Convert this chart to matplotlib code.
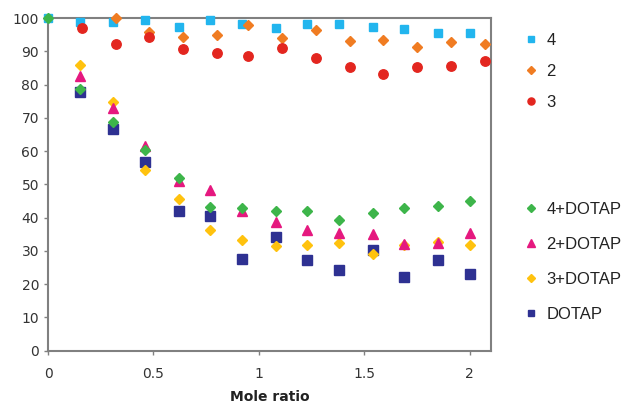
import matplotlib
matplotlib.use("Agg")
import matplotlib.pyplot as plt

# --- data ---
x_a = [0, 0.15, 0.31, 0.46, 0.62, 0.77, 0.92, 1.08, 1.23, 1.38, 1.54, 1.69, 1.85, 2.0]
x_b = [0.16, 0.32, 0.48, 0.64, 0.80, 0.95, 1.11, 1.27, 1.43, 1.59, 1.75, 1.91, 2.07]

y_4 = [100, 98.9, 98.8, 99.3, 97.3, 99.5, 98.3, 97.1, 98.1, 98.1, 97.3, 96.8, 95.5, 95.4]
x_2 = x_b[1:]
y_2 = [100, 95.7, 94.3, 94.9, 97.8, 94.1, 96.5, 93.0, 93.5, 91.3, 92.9, 92.2]
y_3 = [97.0, 92.1, 94.4, 90.7, 89.5, 88.7, 91.0, 88.1, 85.3, 83.3, 85.3, 85.7, 87.1]

# point at x=0 (100 %) is only visible for 4+DOTAP, the others sit underneath
y_4d = [100, 78.7, 68.6, 60.4, 52.0, 43.1, 42.8, 42.0, 42.0, 39.4, 41.5, 42.8, 43.6, 44.9]
x_d = x_a[1:]
y_2d = [82.6, 72.9, 61.6, 51.0, 48.3, 42.0, 38.8, 36.3, 35.3, 35.0, 32.1, 32.3, 35.5]
y_3d = [85.9, 74.9, 54.4, 45.6, 36.3, 33.3, 31.5, 31.7, 32.3, 29.2, 31.7, 32.8, 31.8]
y_dotap = [77.7, 66.6, 56.7, 42.0, 40.6, 27.5, 34.1, 27.3, 24.3, 30.3, 22.3, 27.2, 23.0]

x_ticks = [0, 0.5, 1, 1.5, 2]
x_tick_labels = ["0", "0.5", "1", "1.5", "2"]
y_ticks = list(range(0, 101, 10))

# --- figure ---
fig = plt.figure(figsize=(6.27, 4.03), dpi=100)
ax = fig.add_axes([0.0766, 0.1298, 0.7064, 0.8255])

mk = dict(ls="none", clip_on=False, zorder=3)
h4, = ax.plot(x_a, y_4, marker="s", ms=6.2, color="#22B5EE", label="4", **mk)
h2, = ax.plot(x_2, y_2, marker="D", ms=5, color="#F07C22", label="2", **mk)
h3, = ax.plot(x_b, y_3, marker="o", ms=6.8, color="#E3261F", label="3", **mk)
hd, = ax.plot(x_d, y_dotap, marker="s", ms=6.5, color="#2E3192", label="DOTAP", **mk)
h3d, = ax.plot(x_d, y_3d, marker="D", ms=5, color="#FFC20E", label="3+DOTAP", **mk)
h2d, = ax.plot(x_d, y_2d, marker="^", ms=7.5, color="#E5187F", label="2+DOTAP", **mk)
h4d, = ax.plot(x_a, y_4d, marker="D", ms=5, color="#3DB54A", label="4+DOTAP", **mk)

ax.set_xlim(0, 2.1)
ax.set_ylim(0, 100)
ax.set_xticks(x_ticks)
ax.set_xticklabels(x_tick_labels)
ax.set_yticks(y_ticks)
ax.tick_params(direction="out", length=3, width=1, color="#808080",
               labelsize=10, labelcolor="#333333")
ax.tick_params(axis="x", pad=9)
for sp in ax.spines.values():
    sp.set_color("#808080")
    sp.set_linewidth(1.5)
    sp.set_zorder(2)
ax.set_xlabel("Mole ratio", fontsize=10, fontweight="bold", color="#222222", labelpad=6)

# --- legends (two groups, as in the reference) ---
leg_kw = dict(frameon=False, markerscale=0.75, handlelength=0.8, handletextpad=0.5,
              prop={"family": "Liberation Sans", "size": 12}, borderaxespad=0)
leg1 = fig.legend(handles=[h4, h2, h3], loc="upper left",
                  bbox_to_anchor=(0.826, 0.935), labelspacing=0.95, **leg_kw)
leg2 = fig.legend(handles=[h4d, h2d, h3d, hd], loc="upper left",
                  bbox_to_anchor=(0.826, 0.515), labelspacing=1.2, **leg_kw)
for leg in (leg1, leg2):
    for t in leg.get_texts():
        t.set_color("#222222")

fig.savefig("out.png", dpi=100)
